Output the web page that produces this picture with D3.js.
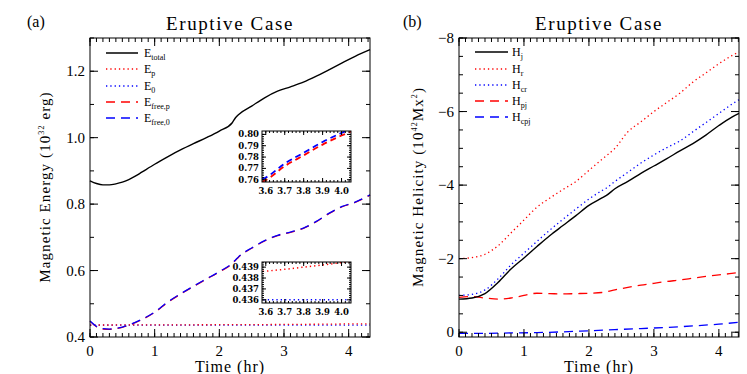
<!DOCTYPE html>
<html lang="en">
<head>
<meta charset="UTF-8">
<title>Eruptive Case</title>
<script src="https://d3js.org/d3.v7.min.js"></script>
<style>
    body { margin: 0; background: #fff; }
    .frame { fill: none; stroke: #000; stroke-width: 1; }
    .tick-line { stroke: #000; stroke-width: 1; }
</style>
</head>
<body>
<div id="chart"></div>
<script>
// ---- panel (a): magnetic energy ----
var tEnergy = [0,0.1,0.2,0.3,0.4,0.5,0.6,0.7,0.8,1.0,1.2,1.4,1.6,1.8,2.0,2.2,2.25,2.3,2.5,2.7,2.9,3.1,3.3,3.5,3.7,3.9,4.1,4.33];
var eTotal  = [0.870,0.862,0.858,0.858,0.861,0.866,0.874,0.884,0.896,0.920,0.942,0.963,0.982,1.000,1.020,1.045,1.060,1.070,1.095,1.120,1.140,1.153,1.167,1.185,1.205,1.225,1.245,1.265];
var eFree0  = [0.448,0.432,0.425,0.424,0.426,0.430,0.436,0.444,0.453,0.475,0.505,0.530,0.553,0.575,0.597,0.622,0.632,0.642,0.668,0.690,0.706,0.716,0.728,0.748,0.773,0.793,0.806,0.828];
var eFreeP  = [0.447,0.431,0.424,0.423,0.425,0.429,0.435,0.443,0.452,0.474,0.504,0.529,0.552,0.574,0.596,0.621,0.631,0.641,0.667,0.689,0.705,0.715,0.727,0.747,0.772,0.792,0.805,0.827];
var tPot = [0,1,2,3,3.58,3.7,3.8,3.9,4.05,4.33];
var eP   = [0.4360,0.4365,0.4370,0.4378,0.4386,0.4388,0.4390,0.4392,0.4395,0.4397];
var e0   = [0.4360,0.4360,0.4360,0.4360,0.4360,0.4360,0.4360,0.4360,0.4360,0.4360];
// inset zoom data
var tZoom = [3.58,3.6,3.7,3.8,3.9,4.0,4.05];
var zFreeP = [0.7582,0.7597,0.7720,0.7815,0.7910,0.7990,0.8025];
var zFree0 = [0.7605,0.7620,0.7743,0.7838,0.7933,0.8013,0.8048];

// ---- panel (b): magnetic helicity ----
var tHel = [0,0.2,0.4,0.6,0.8,1.0,1.2,1.4,1.6,1.8,2.0,2.2,2.27,2.4,2.6,2.8,3.0,3.2,3.4,3.6,3.8,4.0,4.2,4.31];
var hJ   = [-0.90,-0.93,-1.05,-1.35,-1.72,-2.02,-2.33,-2.63,-2.90,-3.17,-3.45,-3.65,-3.72,-3.90,-4.10,-4.32,-4.52,-4.72,-4.93,-5.13,-5.36,-5.62,-5.85,-5.95];
var hR   = [-2.00,-2.03,-2.12,-2.35,-2.70,-3.05,-3.40,-3.65,-3.88,-4.10,-4.40,-4.70,-4.80,-5.00,-5.45,-5.72,-6.00,-6.25,-6.50,-6.80,-7.05,-7.30,-7.52,-7.62];
var hCR  = [-1.00,-1.03,-1.15,-1.45,-1.83,-2.15,-2.47,-2.78,-3.07,-3.35,-3.62,-3.85,-3.92,-4.10,-4.35,-4.60,-4.82,-5.02,-5.20,-5.45,-5.70,-5.95,-6.20,-6.32];
var hPJ  = [-0.95,-0.97,-0.93,-0.90,-0.93,-1.00,-1.06,-1.05,-1.04,-1.05,-1.06,-1.08,-1.10,-1.15,-1.22,-1.28,-1.33,-1.38,-1.42,-1.47,-1.52,-1.56,-1.60,-1.63];
var tCPJ = [0,0.4,0.8,1.2,1.6,2.0,2.4,2.8,3.2,3.6,4.0,4.31];
var hCPJ = [0.03,0.03,0.02,0.01,-0.01,-0.04,-0.07,-0.10,-0.13,-0.17,-0.22,-0.27];

var SERIF = "'Liberation Serif'";

var svg = d3.select("#chart").append("svg")
    .attr("width", 747).attr("height", 374);

var RED = "#ff0000", BLUE = "#0000ff";
var DOT = "1.3,3", DASH = "9,6";

function zip(t, v) { return t.map(function(d, i) { return [d, v[i]]; }); }

// inward ticks on all four sides, IDL style
function frameAxes(g, x, y, o) {
    var x0 = x.range()[0], x1 = x.range()[1], y0 = y.range()[0], y1 = y.range()[1];
    var big = o.big || 8, small = o.small || 4;
    function tk(vals, len, side) {
        vals.forEach(function(v) {
            if (side === "x") {
                g.append("line").attr("class", "tick-line").attr("x1", x(v)).attr("x2", x(v)).attr("y1", y0).attr("y2", y0 - len);
                g.append("line").attr("class", "tick-line").attr("x1", x(v)).attr("x2", x(v)).attr("y1", y1).attr("y2", y1 + len);
            } else {
                g.append("line").attr("class", "tick-line").attr("y1", y(v)).attr("y2", y(v)).attr("x1", x0).attr("x2", x0 + len);
                g.append("line").attr("class", "tick-line").attr("y1", y(v)).attr("y2", y(v)).attr("x1", x1).attr("x2", x1 - len);
            }
        });
    }
    tk(o.xMinor, small, "x"); tk(o.xMajor, big, "x");
    tk(o.yMinor, small, "y"); tk(o.yMajor, big, "y");
    g.append("rect").attr("class", "frame")
        .attr("x", x0).attr("y", Math.min(y0, y1))
        .attr("width", x1 - x0).attr("height", Math.abs(y0 - y1));
    var ff = o.ff || SERIF;
    g.selectAll(null).data(o.xMajor).enter().append("text")
        .attr("x", function(d) { return x(d); })
        .attr("y", y0 + o.xLabelDy)
        .attr("text-anchor", "middle")
        .style("font-size", o.fs + "px").style("font-weight", o.fw || "normal")
        .style("font-family", ff)
        .text(o.xFmt);
    g.selectAll(null).data(o.yMajor).enter().append("text")
        .attr("x", x0 - o.yLabelDx)
        .attr("y", function(d) { return y(d); })
        .attr("dy", "0.35em")
        .attr("text-anchor", "end")
        .style("font-size", o.fs + "px").style("font-weight", o.fw || "normal")
        .style("font-family", ff)
        .text(o.yFmt);
}

function seq(a, b, s) {
    var out = [];
    for (var i = 0; a + i * s <= b + 1e-9; i++) out.push(+(a + i * s).toFixed(4));
    return out;
}

function drawLine(g, x, y, t, v, color, dash, w) {
    g.append("path")
        .datum(zip(t, v))
        .attr("fill", "none")
        .attr("stroke", color)
        .attr("stroke-width", w || 1.3)
        .attr("stroke-dasharray", dash)
        .attr("d", d3.line().x(function(d) { return x(d[0]); }).y(function(d) { return y(d[1]); }).curve(d3.curveMonotoneX));
}

function legend(g, items, x1, x2, tx, ys) {
    items.forEach(function(it, i) {
        g.append("line").attr("x1", x1).attr("x2", x2).attr("y1", ys[i]).attr("y2", ys[i])
            .attr("stroke", it.color).attr("stroke-width", 1.5).attr("stroke-dasharray", it.dash);
        var t = g.append("text").attr("x", tx).attr("y", ys[i] + 4)
            .style("font-family", SERIF).style("font-size", "12px");
        t.append("tspan").text(it.main);
        t.append("tspan").attr("dy", 3).style("font-size", "8px").text(it.sub);
    });
}

function titleBlock(cx, tag, tagX, xlab, xlabX) {
    svg.append("text").attr("x", cx).attr("y", 30).attr("text-anchor", "middle")
        .style("font-family", SERIF)
        .style("font-size", "19px").style("letter-spacing", "1.6px").text("Eruptive Case");
    svg.append("text").attr("x", tagX).attr("y", 27)
        .style("font-family", SERIF).style("font-size", "16px").text(tag);
    svg.append("text").attr("x", xlabX).attr("y", 372).attr("text-anchor", "middle")
        .style("font-family", SERIF)
        .style("font-size", "16px").style("letter-spacing", "1px").text(xlab);
}

// ---------------- panel (a) ----------------
var xa = d3.scaleLinear().domain([0, 4.33]).range([90, 370]);
var ya = d3.scaleLinear().domain([0.4, 1.3]).range([337, 38]);
var ga = svg.append("g");

drawLine(ga, xa, ya, tPot, e0, BLUE, DOT);
drawLine(ga, xa, ya, tPot, eP, RED, DOT);
drawLine(ga, xa, ya, tEnergy, eFreeP, RED, DASH);
drawLine(ga, xa, ya, tEnergy, eFree0, BLUE, DASH);
drawLine(ga, xa, ya, tEnergy, eTotal, "#000", null, 1.4);

frameAxes(ga, xa, ya, {
    xMajor: [0,1,2,3,4], xMinor: seq(0, 4.3, 0.1),
    yMajor: [0.4,0.6,0.8,1.0,1.2], yMinor: seq(0.4, 1.3, 0.1),
    xLabelDy: 19, yLabelDx: 5, fs: 15,
    xFmt: d3.format("d"), yFmt: d3.format(".1f")
});

legend(ga, [
    {main: "E", sub: "total", color: "#000", dash: null},
    {main: "E", sub: "p", color: RED, dash: DOT},
    {main: "E", sub: "0", color: BLUE, dash: DOT},
    {main: "E", sub: "free,p", color: RED, dash: DASH},
    {main: "E", sub: "free,0", color: BLUE, dash: DASH}
], 106, 138, 144, [53, 69, 86, 102, 118]);

svg.append("text")
    .attr("transform", "translate(50,187) rotate(-90)")
    .attr("text-anchor", "middle")
    .style("font-family", SERIF)
    .style("font-size", "15px").style("letter-spacing", "1.1px")
    .call(function(t) {
        t.append("tspan").text("Magnetic Energy (10");
        t.append("tspan").attr("dy", -6).style("font-size", "8px").text("32");
        t.append("tspan").attr("dy", 6).text(" erg)");
    });
titleBlock(230, "(a)", 27, "Time (hr)", 230);

// inset: free energies
var xi1 = d3.scaleLinear().domain([3.58, 4.05]).range([262, 351]);
var yi1 = d3.scaleLinear().domain([0.758, 0.803]).range([182, 131]);
var gi1 = svg.append("g");
gi1.append("rect").attr("x", 262).attr("y", 131).attr("width", 89).attr("height", 51).attr("fill", "#fff");
gi1.append("clipPath").attr("id", "c1").append("rect").attr("x", 262).attr("y", 131).attr("width", 89).attr("height", 51);
var gi1c = gi1.append("g").attr("clip-path", "url(#c1)");
drawLine(gi1c, xi1, yi1, tZoom, zFreeP, RED, "6,4", 1.8);
drawLine(gi1c, xi1, yi1, tZoom, zFree0, BLUE, "6,4", 1.8);
frameAxes(gi1, xi1, yi1, {
    xMajor: [3.6,3.7,3.8,3.9,4.0], xMinor: seq(3.6, 4.05, 0.02),
    yMajor: [0.76,0.77,0.78,0.79,0.80], yMinor: seq(0.76, 0.80, 0.002),
    big: 4, small: 2,
    xLabelDy: 12, yLabelDx: 3, fs: 8.5, fw: "bold", ff: "'DejaVu Serif'",
    xFmt: d3.format(".1f"), yFmt: d3.format(".2f")
});

// inset: potential energies
var xi2 = d3.scaleLinear().domain([3.58, 4.05]).range([262, 351]);
var yi2 = d3.scaleLinear().domain([0.43571, 0.43947]).range([303, 262]);
var gi2 = svg.append("g");
gi2.append("rect").attr("x", 262).attr("y", 262).attr("width", 89).attr("height", 41).attr("fill", "#fff");
gi2.append("clipPath").attr("id", "c2").append("rect").attr("x", 262).attr("y", 262).attr("width", 89).attr("height", 41);
var gi2c = gi2.append("g").attr("clip-path", "url(#c2)");
drawLine(gi2c, xi2, yi2, tPot, eP, RED, DOT, 1.5);
drawLine(gi2c, xi2, yi2, tPot, e0, BLUE, DOT, 1.5);
frameAxes(gi2, xi2, yi2, {
    xMajor: [3.6,3.7,3.8,3.9,4.0], xMinor: seq(3.6, 4.05, 0.02),
    yMajor: [0.436,0.437,0.438,0.439], yMinor: seq(0.436, 0.4394, 0.0002),
    big: 4, small: 2,
    xLabelDy: 12, yLabelDx: 3, fs: 8.5, fw: "bold", ff: "'DejaVu Serif'",
    xFmt: d3.format(".1f"), yFmt: d3.format(".3f")
});

// ---------------- panel (b) ----------------
var xb = d3.scaleLinear().domain([0, 4.31]).range([459, 739]);
var yb = d3.scaleLinear().domain([0.13, -8]).range([337, 38]);
var gb = svg.append("g");

drawLine(gb, xb, yb, tCPJ, hCPJ, BLUE, DASH);
drawLine(gb, xb, yb, tHel, hPJ, RED, DASH);
drawLine(gb, xb, yb, tHel, hR, RED, DOT);
drawLine(gb, xb, yb, tHel, hCR, BLUE, DOT);
drawLine(gb, xb, yb, tHel, hJ, "#000", null, 1.4);

frameAxes(gb, xb, yb, {
    xMajor: [0,1,2,3,4], xMinor: seq(0, 4.3, 0.1),
    yMajor: [0,-2,-4,-6,-8], yMinor: seq(-8, 0, 0.5),
    xLabelDy: 19, yLabelDx: 5, fs: 15,
    xFmt: d3.format("d"), yFmt: function(d) { return d === 0 ? "0" : "\u2212" + Math.abs(d); }
});

legend(gb, [
    {main: "H", sub: "j", color: "#000", dash: null},
    {main: "H", sub: "r", color: RED, dash: DOT},
    {main: "H", sub: "cr", color: BLUE, dash: DOT},
    {main: "H", sub: "pj", color: RED, dash: DASH},
    {main: "H", sub: "cpj", color: BLUE, dash: DASH}
], 475, 508, 512, [52, 69, 85, 101, 117]);

svg.append("text")
    .attr("transform", "translate(423,187) rotate(-90)")
    .attr("text-anchor", "middle")
    .style("font-family", SERIF)
    .style("font-size", "15px").style("letter-spacing", "1.1px")
    .call(function(t) {
        t.append("tspan").text("Magnetic Helicity (10");
        t.append("tspan").attr("dy", -6).style("font-size", "8px").text("42");
        t.append("tspan").attr("dy", 6).text("Mx");
        t.append("tspan").attr("dy", -6).style("font-size", "8px").text("2");
        t.append("tspan").attr("dy", 6).text(")");
    });
titleBlock(599, "(b)", 403, "Time (hr)", 599);
</script>
</body>
</html>
